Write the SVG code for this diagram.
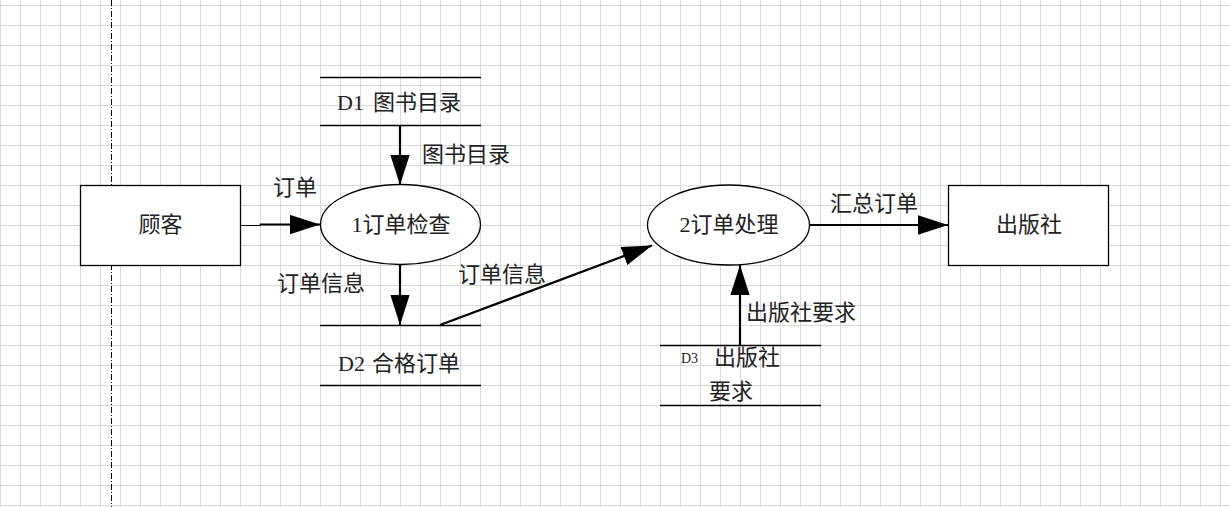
<svg xmlns="http://www.w3.org/2000/svg" width="1230" height="507" viewBox="0 0 1230 507">
<style>
.lbl{font-family:"Liberation Serif","Noto Sans CJK SC",serif;font-size:22px;fill:#222}
.mid{text-anchor:middle}
.shape{fill:#fff;stroke:#000;stroke-width:1.3}
.store{stroke:#000;stroke-width:1.3}
.flow{fill:none;stroke:#000;stroke-width:2.2}
</style>
<defs>
<pattern id="grid" patternUnits="userSpaceOnUse" x="0" y="5" width="20" height="20">
<path d="M0 0.5H20M0.5 0V20" stroke="#d9d9d9" stroke-width="1" fill="none"/>
</pattern>
<marker id="arr" markerUnits="userSpaceOnUse" markerWidth="30" markerHeight="20" viewBox="0 0 28 18" refX="28" refY="9" orient="auto">
<path d="M0 0L28 9L0 18Z" fill="#000"/>
</marker>
</defs>
<rect width="1230" height="507" fill="#fff"/>
<rect width="1230" height="507" fill="url(#grid)"/>
<line x1="111.5" y1="0" x2="111.5" y2="507" stroke="#000" stroke-width="1" stroke-dasharray="6,2,1,2"/>

<g id="connectors">
<polyline points="240,225.5 260,225.5 260,224.5" fill="none" stroke="#000" stroke-width="1.2"/>
<line class="flow" x1="260" y1="224.5" x2="320" y2="224.5" marker-end="url(#arr)"/>
<line class="flow" x1="400" y1="125" x2="400" y2="185" marker-end="url(#arr)"/>
<line class="flow" x1="400" y1="264" x2="400" y2="325" marker-end="url(#arr)"/>
<line class="flow" x1="440" y1="325" x2="652" y2="245.5" marker-end="url(#arr)"/>
<line class="flow" x1="809" y1="225" x2="948" y2="225" marker-end="url(#arr)"/>
<line class="flow" x1="740" y1="345" x2="740" y2="265" marker-end="url(#arr)"/>
<text class="lbl" x="273" y="195">订单</text>
<text class="lbl" x="422" y="162">图书目录</text>
<text class="lbl" x="277" y="291">订单信息</text>
<text class="lbl" x="458" y="282">订单信息</text>
<text class="lbl" x="830" y="211">汇总订单</text>
<text class="lbl" x="746" y="320">出版社要求</text>
</g>

<g id="customer">
<rect class="shape" x="80.5" y="185.5" width="160" height="80"/>
<text class="lbl mid" x="160.5" y="232">顾客</text>
</g>

<g id="process1">
<ellipse class="shape" cx="400.5" cy="224.5" rx="80" ry="40"/>
<text class="lbl mid" x="401" y="232">1订单检查</text>
</g>

<g id="store-d1">
<line class="store" x1="320" y1="77.5" x2="481" y2="77.5"/>
<line class="store" x1="320" y1="125.5" x2="481" y2="125.5"/>
<text class="lbl" x="337" y="110">D1</text>
<text class="lbl" x="373" y="110">图书目录</text>
</g>

<g id="store-d2">
<line class="store" x1="320" y1="325.5" x2="481" y2="325.5"/>
<line class="store" x1="320" y1="385.5" x2="481" y2="385.5"/>
<text class="lbl" x="338" y="371">D2</text>
<text class="lbl" x="372" y="371">合格订单</text>
</g>

<g id="process2">
<ellipse class="shape" cx="728.5" cy="225" rx="81" ry="40"/>
<text class="lbl mid" x="729" y="232">2订单处理</text>
</g>

<g id="publisher">
<rect class="shape" x="948.5" y="185.5" width="160" height="80"/>
<text class="lbl mid" x="1029" y="232">出版社</text>
</g>

<g id="store-d3">
<line class="store" x1="660" y1="345.5" x2="821" y2="345.5"/>
<line class="store" x1="660" y1="405.5" x2="821" y2="405.5"/>
<text class="lbl" x="681" y="363" style="font-size:14px">D3</text>
<text class="lbl" x="714" y="365">出版社</text>
<text class="lbl" x="709" y="399">要求</text>
</g>
</svg>
